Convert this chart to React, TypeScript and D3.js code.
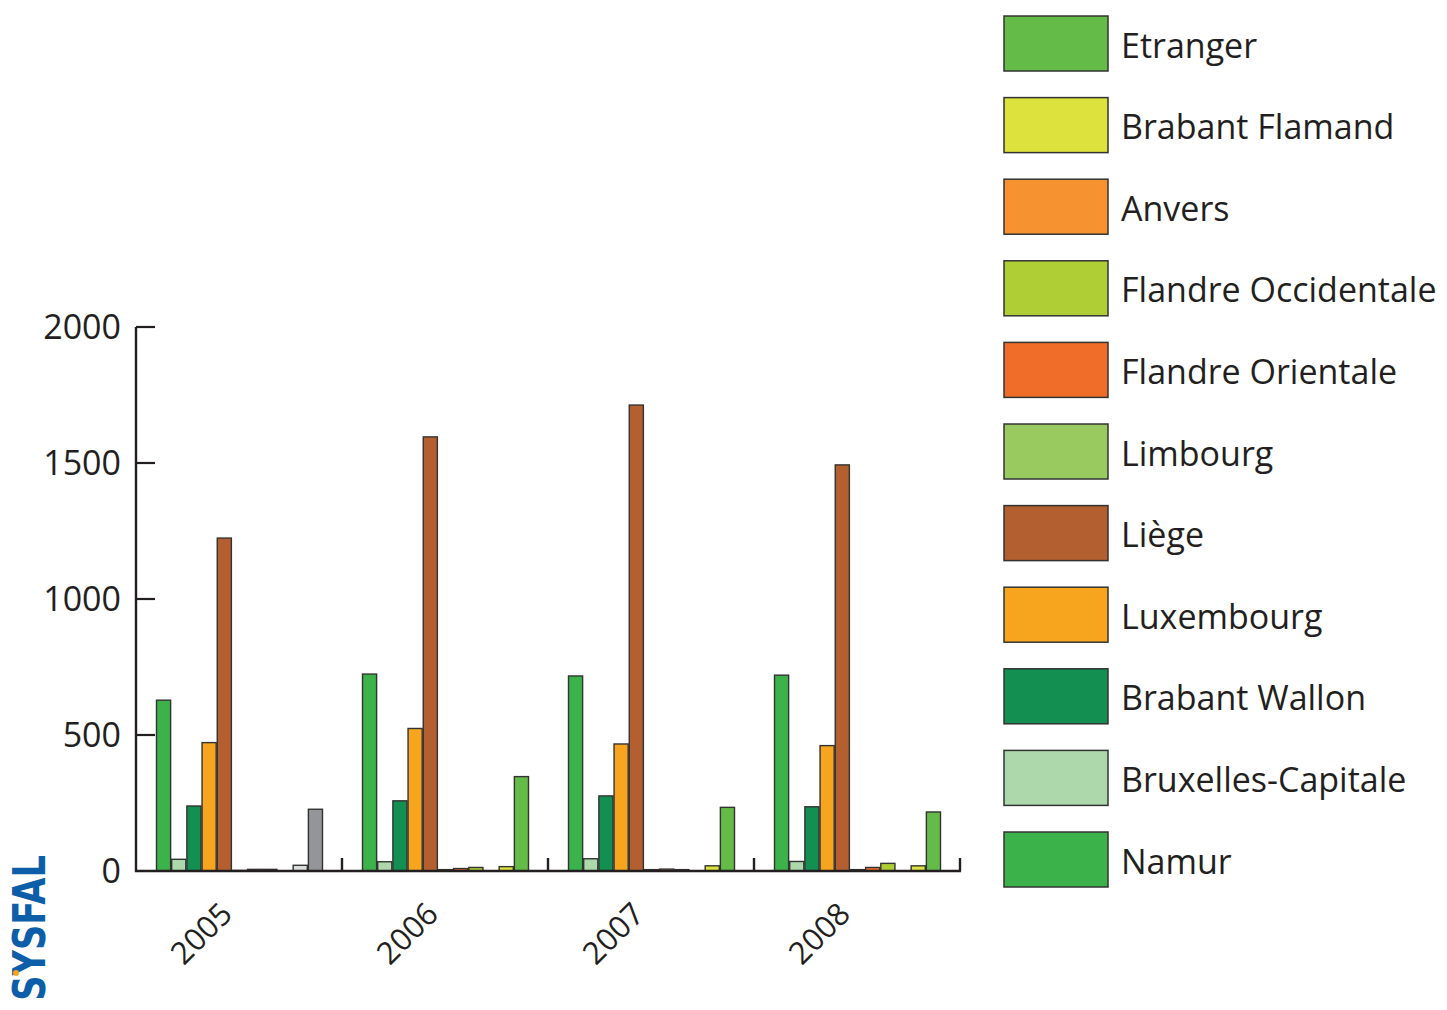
import React from "react";
import * as d3 from "d3";

const years = ["2005", "2006", "2007", "2008"];

// Series in legend order (top to bottom)
const legendSeries = [
  "Etranger",
  "Brabant Flamand",
  "Anvers",
  "Flandre Occidentale",
  "Flandre Orientale",
  "Limbourg",
  "Liège",
  "Luxembourg",
  "Brabant Wallon",
  "Bruxelles-Capitale",
  "Namur",
];

const seriesColors = [
  "#65bb47",
  "#dde33c",
  "#f6922f",
  "#afce35",
  "#f06d29",
  "#98ca60",
  "#b35f30",
  "#f7a51f",
  "#138f52",
  "#add8ab",
  "#3cb24a",
];

// Values per series, for years 2005..2008
const etranger = [227, 347, 234, 217];
const brabantFlamand = [21, 16, 19, 19];
const anvers = [0, 0, 0, 0];
const flandreOccidentale = [6, 13, 5, 28];
const flandreOrientale = [6, 9, 7, 13];
const limbourg = [2, 5, 5, 5];
const liege = [1224, 1596, 1713, 1493];
const luxembourg = [472, 524, 467, 461];
const brabantWallon = [239, 258, 276, 236];
const bruxellesCapitale = [43, 34, 45, 35];
const namur = [628, 724, 717, 720];

const seriesValues = [
  etranger,
  brabantFlamand,
  anvers,
  flandreOccidentale,
  flandreOrientale,
  limbourg,
  liege,
  luxembourg,
  brabantWallon,
  bruxellesCapitale,
  namur,
];

// In 2005 some series were drawn in grey
const greyed2005: Record<string, string> = {
  Etranger: "#939598",
  "Brabant Flamand": "#dcdddd",
  Anvers: "#939598",
  "Flandre Occidentale": "#808285",
  "Flandre Orientale": "#c8c8c8",
  Limbourg: "#939598",
};

const yTicks = [500, 1000, 1500, 2000];
const yLabels = [0, 500, 1000, 1500, 2000];

const FONT = "'Open Sans', sans-serif";
const INK = "#231f20";
const BAR_STROKE = "#333";

export default function App() {
  const width = 1447;
  const height = 1010;
  const x0 = 136;
  const x1 = 960;
  const yBase = 871;
  const yTop = 327;

  const x = d3.scaleBand<string>().domain(years).range([x0, x1]).padding(0);
  // bars are drawn in reverse legend order within a group
  const barOrder = legendSeries.slice().reverse();
  const xs = d3
    .scaleBand<string>()
    .domain(barOrder)
    .range([20.5, x.bandwidth() - 19.5])
    .paddingInner(0.07)
    .paddingOuter(0);
  const y = d3.scaleLinear().domain([0, 2000]).range([yBase, yTop]);

  const bars: any[] = [];
  years.forEach((yr, yi) => {
    barOrder.forEach((s) => {
      const si = legendSeries.indexOf(s);
      const v = seriesValues[si][yi];
      if (v <= 0) return;
      let fill = seriesColors[si];
      if (yr === "2005" && greyed2005[s]) fill = greyed2005[s];
      bars.push({ key: yr + s, x: (x(yr) as number) + (xs(s) as number), y: y(v), h: y(0) - y(v), fill });
    });
  });

  const legendStep = 81.6;

  return (
    <svg
      width={width}
      height={height}
      style={{ position: "absolute", left: 0, top: 0, background: "#fff" }}
    >
      <rect x={0} y={0} width={width} height={height} fill="#fff" />
      {/* bars */}
      {bars.map((b) => (
        <rect
          key={b.key}
          x={b.x}
          y={b.y}
          width={xs.bandwidth()}
          height={b.h}
          fill={b.fill}
          stroke={BAR_STROKE}
          strokeWidth={1.4}
        />
      ))}
      {/* y axis */}
      <line x1={x0} x2={x0} y1={yTop} y2={yBase + 1} stroke={INK} strokeWidth={2.4} />
      {yTicks.map((t) => (
        <line key={t} x1={x0} x2={x0 + 19} y1={y(t)} y2={y(t)} stroke={INK} strokeWidth={2.2} />
      ))}
      {yLabels.map((t) => (
        <text
          key={t}
          x={121}
          y={y(t)}
          dy="0.36em"
          textAnchor="end"
          fontFamily={FONT}
          fontSize={34}
          fill={INK}
        >
          {t}
        </text>
      ))}
      {/* x axis */}
      <line x1={x0 - 1} x2={x1 + 1} y1={yBase} y2={yBase} stroke={INK} strokeWidth={2.6} />
      {years.map((yr) => {
        const bx = (x(yr) as number) + x.bandwidth();
        return (
          <line key={"t" + yr} x1={bx} x2={bx} y1={yBase} y2={yBase - 13} stroke={INK} strokeWidth={2.4} />
        );
      })}
      {years.map((yr) => {
        const cx = (x(yr) as number) + x.bandwidth() / 2 - 5;
        const cy = yBase + 45;
        return (
          <text
            key={"l" + yr}
            transform={`translate(${cx},${cy}) rotate(-45)`}
            textAnchor="end"
            fontFamily={FONT}
            fontSize={31}
            fill={INK}
          >
            {yr}
          </text>
        );
      })}
      {/* legend */}
      {legendSeries.map((s, i) => {
        const ty = 16 + i * legendStep;
        return (
          <g key={"lg" + s}>
            <rect
              x={1004}
              y={ty}
              width={104}
              height={55}
              fill={seriesColors[i]}
              stroke={BAR_STROKE}
              strokeWidth={1.5}
            />
            <text x={1121} y={ty + 41.5} fontFamily={FONT} fontSize={34} fill={INK}>
              {s}
            </text>
          </g>
        );
      })}
      {/* logo */}
      <g transform="translate(45,855) rotate(-90) scale(0.8,1)">
        <text
          textAnchor="end"
          fontFamily="'DejaVu Sans', sans-serif"
          fontWeight={700}
          fontSize={44}
          fill="#0d5ea8"
        >
          SYSFAL
        </text>
      </g>
      <circle cx={16} cy={973} r={3} fill="#f7a51f" />
    </svg>
  );
}
